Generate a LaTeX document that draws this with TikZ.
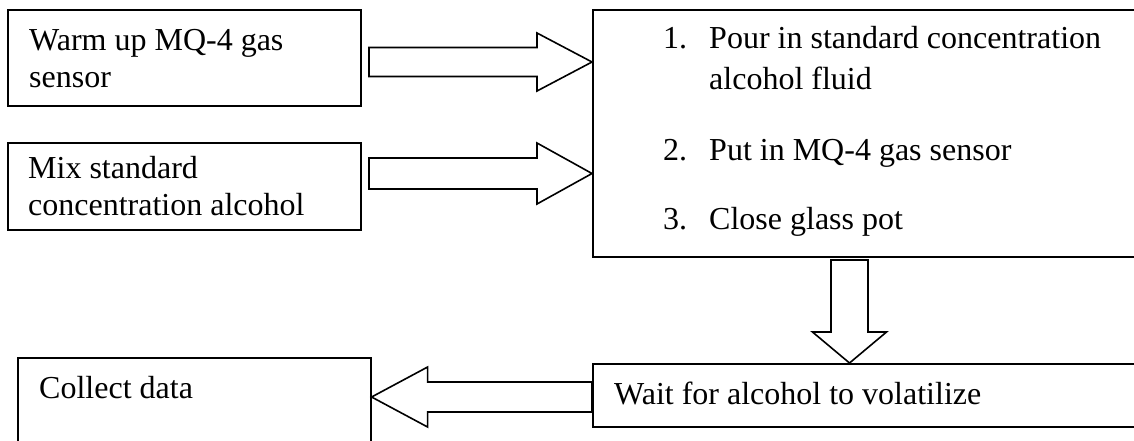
\documentclass[tikz,border=0pt]{standalone}
\usepackage{fontspec}
\setmainfont{Liberation Serif}
\usetikzlibrary{calc}
\tikzset{
  box/.style={draw, line width=1.6pt, inner sep=0pt, anchor=north west},
  txt/.style={anchor=base west, inner sep=0pt, font=\fontsize{32}{37}\selectfont},
  blockarrow/.style n args={3}{draw, line width=1.6pt, to path={
      ($(\tikztotarget)!#3pt!(\tikztostart)$) coordinate (bh)
      ($(\tikztostart)!#1pt!90:(\tikztotarget)$)
      -- ($(bh)!#1pt!90:(\tikztotarget)$)
      -- ($(bh)!#2pt!90:(\tikztotarget)$)
      -- (\tikztotarget)
      -- ($(bh)!#2pt!-90:(\tikztotarget)$)
      -- ($(bh)!#1pt!-90:(\tikztotarget)$)
      -- ($(\tikztostart)!#1pt!-90:(\tikztotarget)$)
      -- cycle}}
}
\begin{document}
\begin{tikzpicture}[x=1pt,y=-1pt]
\useasboundingbox (0,0) rectangle (1134,440);
\clip (0,0) rectangle (1134,440);
% boxes
\node[box, minimum width=353pt, minimum height=96pt] (warm) at (7,9) {};
\node[box, minimum width=353pt, minimum height=87pt] (mix) at (7,142) {};
\node[box, minimum width=548pt, minimum height=247pt] (big) at (592,9) {};
\node[box, minimum width=548pt, minimum height=63pt] (wait) at (592,363) {};
\node[box, minimum width=353pt, minimum height=100pt] (collect) at (17,357) {};
% texts
\node[txt] (w1) at (29,50) {Warm up MQ-4 gas};
\node[txt] (w2) at (29,87) {sensor};
\node[txt] (m1) at (28,178) {Mix standard};
\node[txt] (m2) at (28,215) {concentration alcohol};
\node[txt] (n1) at (663,48) {1.};
\node[txt] (p1) at (709,48) {Pour in standard concentration};
\node[txt] (p1b) at (709,89) {alcohol fluid};
\node[txt] (n2) at (663,160) {2.};
\node[txt] (p2) at (709,160) {Put in MQ-4 gas sensor};
\node[txt] (n3) at (663,229) {3.};
\node[txt] (p3) at (709,229) {Close glass pot};
\node[txt] (wt) at (614,404) {Wait for alcohol to volatilize};
\node[txt] (ct) at (39,398) {Collect data};
% block arrows
\coordinate (a1s) at (369,62);
\coordinate (a2s) at (369,173.5);
\coordinate (ds) at (849.5,260);
\coordinate (ls) at (592,397);
\draw[blockarrow={14.5}{29}{55}] (a1s) to (big.west |- a1s);
\draw[blockarrow={15.5}{30.5}{55}] (a2s) to (big.west |- a2s);
\draw[blockarrow={18.5}{37}{31}] (ds) to (ds |- wait.north);
\draw[blockarrow={15}{30}{56}] (wait.west |- ls) to (collect.east |- ls);
\end{tikzpicture}
\end{document}
